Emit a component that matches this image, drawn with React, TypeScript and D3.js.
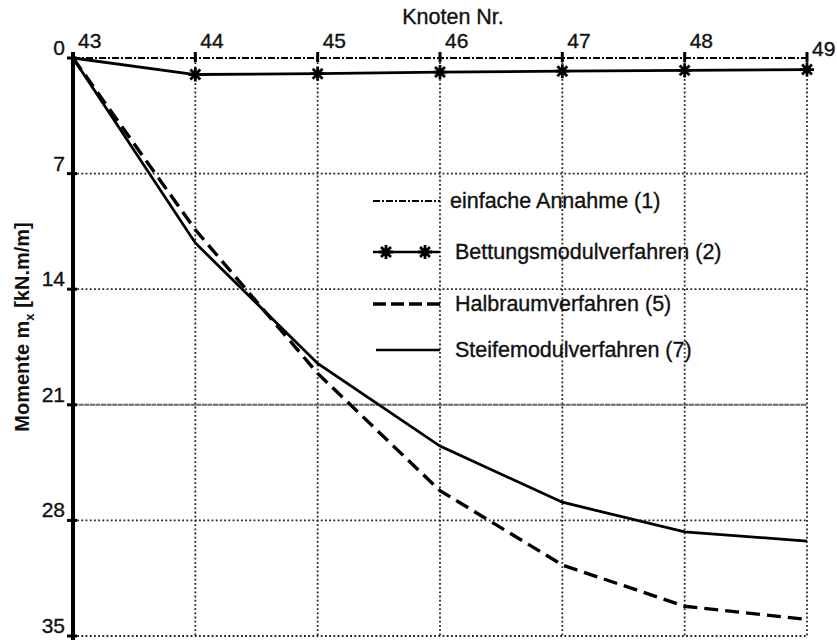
import React from "react";
import * as d3 from "d3";

const nodes = [43, 44, 45, 46, 47, 48, 49];
const einfache = [0, 0, 0, 0, 0, 0, 0];
const bettung = [0, 1.0, 0.95, 0.85, 0.8, 0.75, 0.7];
const halbraum = [0, 10.4, 19.1, 26.2, 30.7, 33.2, 34.0];
const steife = [0, 11.2, 18.5, 23.5, 26.9, 28.7, 29.25];
const yTicks = [0, 7, 14, 21, 28, 35];
const legendLabels = [
  "einfache Annahme (1)",
  "Bettungsmodulverfahren (2)",
  "Halbraumverfahren (5)",
  "Steifemodulverfahren (7)",
];

const W = 837;
const H = 641;
const FONT = "Arial, 'Liberation Sans', sans-serif";

const asterisk8 = {
  draw(context: any, size: number) {
    const r = Math.sqrt(size) / 2;
    for (let k = 0; k < 4; k++) {
      const a = (k * Math.PI) / 4;
      const dx = Math.cos(a) * r;
      const dy = Math.sin(a) * r;
      context.moveTo(-dx, -dy);
      context.lineTo(dx, dy);
    }
  },
};

export default function App() {
  const x = d3.scaleLinear().domain([43, 49]).range([73, 807]);
  const y = d3.scaleLinear().domain([0, 35]).range([58, 636]);
  const line = d3
    .line<number>()
    .x((_, i) => x(nodes[i]))
    .y((d) => y(d));
  const star = d3.symbol(asterisk8 as any, 196)()!;
  const txt = { fill: "#111", stroke: "#111", strokeWidth: 0.35 };

  return (
    <svg
      width={W}
      height={H}
      style={{ position: "absolute", left: 0, top: 0, background: "#fff" }}
      fontFamily={FONT}
    >
      <rect width={W} height={H} fill="#fff" />
      {/* vertical grid */}
      {nodes.slice(1).map((n) => (
        <line
          key={"vg" + n}
          x1={x(n)}
          x2={x(n)}
          y1={y(0)}
          y2={y(35)}
          stroke="#222"
          strokeWidth={1.8}
          strokeDasharray="1.8,2.4"
        />
      ))}
      {/* horizontal grid */}
      {yTicks.slice(1).map((t) => (
        <line
          key={"hg" + t}
          x1={x(43)}
          x2={x(49)}
          y1={y(t)}
          y2={y(t)}
          stroke={t === 21 ? "#666" : "#222"}
          strokeWidth={t === 21 ? 2 : 1.8}
          strokeDasharray={t === 21 ? "5,0.6" : "1.8,2.4"}
        />
      ))}
      {/* top ticks */}
      {nodes.map((n) => (
        <line
          key={"tt" + n}
          x1={x(n)}
          x2={x(n)}
          y1={y(0) - 6}
          y2={y(0) + 4}
          stroke="#000"
          strokeWidth={3}
        />
      ))}
      {/* left axis */}
      <line x1={x(43)} x2={x(43)} y1={y(0) - 6} y2={y(35) + 4} stroke="#000" strokeWidth={4} />
      {yTicks.map((t) => (
        <line
          key={"lt" + t}
          x1={x(43) - 6}
          x2={x(43) + 4}
          y1={y(t)}
          y2={y(t)}
          stroke="#000"
          strokeWidth={3}
        />
      ))}
      {/* y tick labels */}
      {yTicks.map((t) => (
        <text
          key={"yl" + t}
          x={x(43) - 8}
          y={y(t) - 3}
          textAnchor="end"
          fontSize={21}
          {...txt}
        >
          {t}
        </text>
      ))}
      {/* x tick labels */}
      {nodes.map((n) => (
        <text
          key={"xl" + n}
          x={x(n) + 5}
          y={n === 49 ? 56 : 48}
          fontSize={21}
          {...txt}
        >
          {n}
        </text>
      ))}
      <text x={453} y={24} textAnchor="middle" fontSize={21.5} {...txt}>
        Knoten Nr.
      </text>
      <text
        transform={`translate(29,${327}) rotate(-90)`}
        textAnchor="middle"
        fontSize={20}
        fontWeight="bold"
        fill="#111"
      >
        Momente m<tspan fontSize={13} dy={5}>x</tspan>
        <tspan dy={-5}> [kN.m/m]</tspan>
      </text>

      {/* series */}
      <path d={line(einfache)!} fill="none" stroke="#000" strokeWidth={2.2} strokeDasharray="7,2,2,2" />
      <path d={line(bettung)!} fill="none" stroke="#000" strokeWidth={2.8} />
      {bettung.slice(1).map((v, i) => (
        <path
          key={"st" + i}
          d={star}
          transform={`translate(${x(nodes[i + 1])},${y(v)})`}
          fill="none"
          stroke="#000"
          strokeWidth={2.8}
        />
      ))}
      <path d={line(halbraum)!} fill="none" stroke="#000" strokeWidth={3.4} strokeDasharray="14,7" />
      <path d={line(steife)!} fill="none" stroke="#000" strokeWidth={2.8} />

      {/* legend */}
      <line x1={373} x2={440} y1={201} y2={201} stroke="#000" strokeWidth={2.2} strokeDasharray="7,2,2,2" />
      <line x1={373} x2={440} y1={252} y2={252} stroke="#000" strokeWidth={2.6} />
      <path d={star} transform="translate(386,252)" fill="none" stroke="#000" strokeWidth={2.8} />
      <path d={star} transform="translate(425,252)" fill="none" stroke="#000" strokeWidth={2.8} />
      <line x1={373} x2={440} y1={304} y2={304} stroke="#000" strokeWidth={3.4} strokeDasharray="13,5" />
      <line x1={376} x2={440} y1={350} y2={350} stroke="#000" strokeWidth={2.6} />
      {legendLabels.map((l, i) => (
        <text
          key={l}
          x={i === 0 ? 450 : 455}
          y={[201, 252, 304, 350][i] + 7}
          fontSize={21.5}
          {...txt}
        >
          {l}
        </text>
      ))}
    </svg>
  );
}
